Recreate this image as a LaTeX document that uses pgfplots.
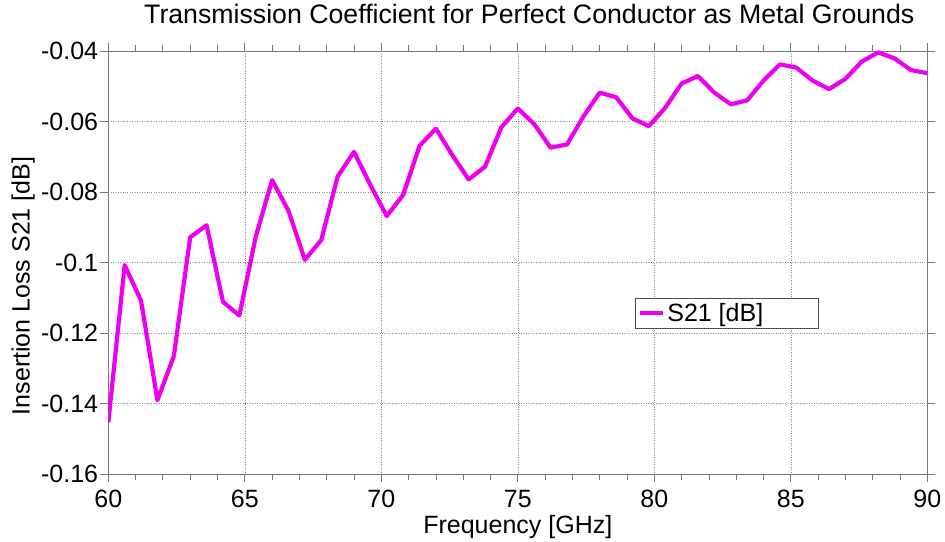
\documentclass[border=0pt]{standalone}
\usepackage{fontspec}
\setmainfont{Liberation Sans}
\usepackage{pgfplots}
\pgfplotsset{compat=1.18}
\definecolor{linemag}{RGB}{238,0,238}
\definecolor{axgray}{RGB}{120,120,120}
\begin{document}
\begin{tikzpicture}[font=\fontsize{25}{30}\selectfont]
\begin{axis}[
  at={(0pt,0pt)}, anchor=south west,
  scale only axis,
  width=819pt, height=423.3pt,
  xmin=60, xmax=90, ymin=-0.16, ymax=-0.04,
  xtick={60,65,70,75,80,85,90},
  minor x tick num=4,
  ytick={-0.16,-0.14,-0.12,-0.1,-0.08,-0.06,-0.04},
  yticklabels={-0.16,-0.14,-0.12,-0.1,-0.08,-0.06,-0.04},
  xticklabels={60,65,70,75,80,85,90},
  tick align=outside,
  major tick length=8pt, minor tick length=6pt,
  axis line style={axgray, line width=0.8pt},
  every tick/.style={axgray, line width=0.8pt},
  grid=major,
  major grid style={dotted, black!45, line width=0.6pt},
  title={Transmission Coefficient for Perfect Conductor as Metal Grounds},
  title style={at={(0.514,1)}, anchor=base, yshift=21pt, inner sep=0pt, font=\fontsize{26.7}{30}\selectfont},
  xlabel={Frequency [GHz]},
  ylabel={Insertion Loss S21 [dB]},
  xlabel style={at={(axis description cs:0.5,-0.125)}, anchor=center, inner sep=0pt},
  ylabel style={at={(axis description cs:-0.104,0.445)}, anchor=center, inner sep=0pt},
  xticklabel style={inner sep=2pt, yshift=-6pt},
  yticklabel style={inner sep=2pt},
  legend style={at={(0.643,0.4165)}, anchor=north west, draw=black!70, line width=0.8pt,
    inner xsep=3pt, inner ysep=3pt, fill=white},
  legend cell align=left,
  legend image code/.code={\draw[#1, line width=4pt] (0pt,0pt) -- (23pt,0pt);},
]
\addplot[linemag, line width=4.2pt, line join=round] coordinates {
(60.0,-0.1453) (60.6,-0.1007) (61.2,-0.1108) (61.8,-0.1390) (62.4,-0.1265)
(63.0,-0.0928) (63.6,-0.0894) (64.2,-0.1111) (64.8,-0.1150) (65.4,-0.0927)
(66.0,-0.0766) (66.6,-0.0853) (67.2,-0.0992) (67.8,-0.0936) (68.4,-0.0756)
(69.0,-0.0686) (69.6,-0.0780) (70.2,-0.0868) (70.8,-0.0808) (71.4,-0.0669)
(72.0,-0.0620) (72.6,-0.0695) (73.2,-0.0764) (73.8,-0.0728) (74.4,-0.0616)
(75.0,-0.0563) (75.6,-0.0607) (76.2,-0.0674) (76.8,-0.0665) (77.4,-0.0586)
(78.0,-0.0518) (78.6,-0.0531) (79.2,-0.0591) (79.8,-0.0613) (80.4,-0.0561)
(81.0,-0.0492) (81.6,-0.0471) (82.2,-0.0518) (82.8,-0.0551) (83.4,-0.0540)
(84.0,-0.0484) (84.6,-0.0438) (85.2,-0.0447) (85.8,-0.0484) (86.4,-0.0508)
(87.0,-0.0479) (87.6,-0.0430) (88.2,-0.0404) (88.8,-0.0421) (89.4,-0.0454)
(90.0,-0.0463)
};
\addlegendentry{\makebox[146pt][l]{S21 [dB]}}
\end{axis}
\pgfresetboundingbox
\path (-108.3pt,-66.7pt) rectangle (836.7pt,474.3pt);
\end{tikzpicture}
\end{document}
